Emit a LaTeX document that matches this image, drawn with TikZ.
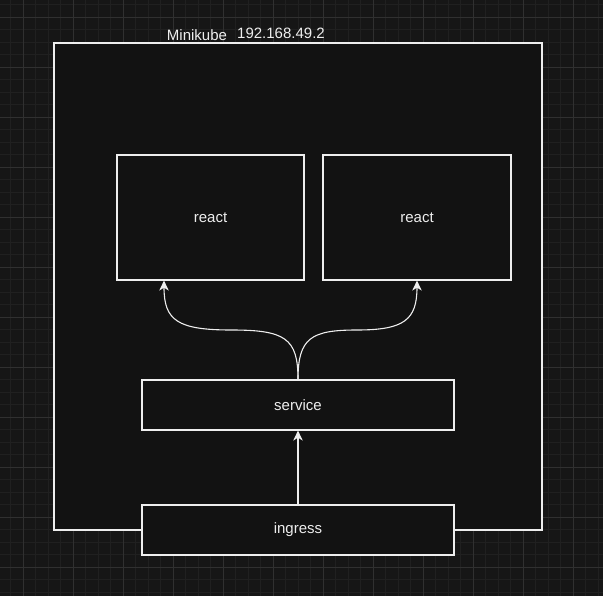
\documentclass[tikz,border=0pt]{standalone}
\usepackage{fontspec}
\setmainfont{Liberation Sans}
\usetikzlibrary{arrows.meta}
\definecolor{bgc}{RGB}{22,22,22}
\definecolor{boxfill}{RGB}{18,18,18}
\definecolor{gridminor}{RGB}{32,32,32}
\definecolor{gridmajor}{RGB}{48,48,48}
\definecolor{ink}{RGB}{238,238,238}
\tikzset{
  box/.style={draw=ink, fill=boxfill, line width=1.2pt, inner sep=0pt, text=ink, font=\fontsize{15}{17}\selectfont},
  lbl/.style={text=ink, inner sep=0pt, font=\fontsize{15}{17}\selectfont},
  conn/.style={draw=ink, line width=1.1pt, -{Stealth[length=10pt,width=9.5pt,inset=3pt]}}
}
\begin{document}
\begin{tikzpicture}[x=1pt,y=-1pt]
\useasboundingbox (0,0) rectangle (603,596);
\fill[bgc] (0,0) rectangle (603,596);
% minor grid
\foreach \i in {0,...,48} {
  \draw[gridminor, line width=0.8pt] ({-1.7+12.5*\i},0) -- ({-1.7+12.5*\i},596);
  \draw[gridminor, line width=0.8pt] (0,{4.5+12.5*\i}) -- (603,{4.5+12.5*\i});
}
% major grid
\foreach \i in {0,...,12} {
  \draw[gridmajor, line width=0.9pt] ({23.3+50*\i},0) -- ({23.3+50*\i},596);
  \draw[gridmajor, line width=0.9pt] (0,{17+50*\i}) -- (603,{17+50*\i});
}
% Minikube frame
\node[box, minimum width=488pt, minimum height=487pt] (mk) at (298,286.5) {};
\node[lbl, anchor=base] (mkname) at (197,41) {Minikube};
\node[lbl, anchor=base] (mkip) at (281,39) {192.168.49.2};
% pods
\node[box, minimum width=187pt, minimum height=125pt] (r1) at (210.5,217.5) {react};
\node[box, minimum width=188pt, minimum height=125pt] (r2) at (417,217.5) {react};
% service and ingress
\node[box, minimum width=312pt, minimum height=50pt] (svc) at (298,405) {service};
\node[box, minimum width=312pt, minimum height=50pt] (ing) at (298,530) {ingress};
% connectors
\draw[conn] (svc.north) .. controls (298,338) and (285,330) .. (231,330) .. controls (177,330) and (164,320) .. (r1.south -| 164,0);
\draw[conn] (svc.north) .. controls (298,338) and (311,330) .. (357,330) .. controls (404,330) and (417,320) .. (r2.south -| 417,0);
\draw[conn] (ing.north) -- (svc.south);
\end{tikzpicture}
\end{document}
